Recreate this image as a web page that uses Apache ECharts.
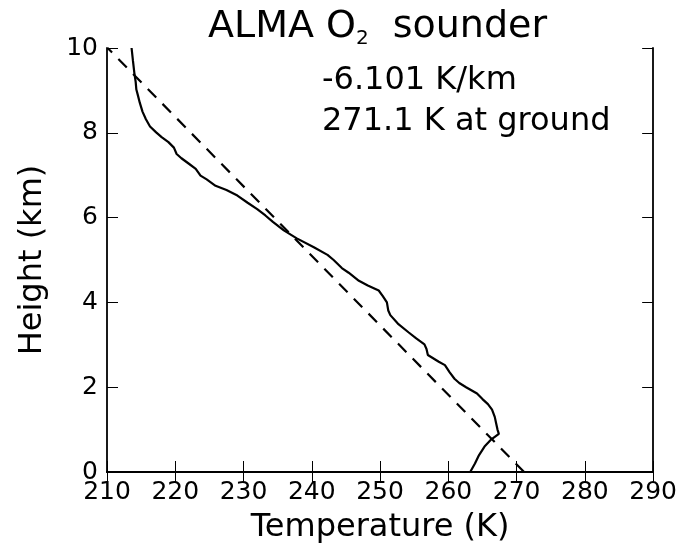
<!DOCTYPE html>
<html>
<head>
<meta charset="utf-8">
<script src="https://cdn.jsdelivr.net/npm/echarts@6/dist/echarts.min.js"></script>
<style>
html,body{margin:0;padding:0;background:#fff;}
#main{width:680px;height:549px;}
</style>
</head>
<body>
<div id="main"></div>
<script>
//探空数据 高度(km) 与 温度(K)
var heights = [0,0.2,0.4,0.6,0.77,0.9,1.0,1.15,1.3,1.47,1.6,1.72,1.85,2.0,2.1,2.2,2.35,2.52,2.6,2.76,2.9,3.01,3.15,3.29,3.5,3.7,3.81,4.0,4.15,4.28,4.4,4.51,4.7,4.81,5.0,5.12,5.3,5.51,5.7,5.9,6.05,6.2,6.35,6.52,6.65,6.75,6.9,6.99,7.15,7.27,7.4,7.5,7.65,7.78,7.9,8.01,8.15,8.32,8.5,8.71,8.9,9.02,9.2,9.42,9.7,10];
var temps = [263.2,263.9,264.5,265.3,266.3,267.4,267.2,267.0,266.8,266.4,265.8,265.0,264.2,262.6,261.6,260.9,260.2,259.5,258.6,257.0,256.8,256.5,255.3,254.2,252.6,251.5,251.2,251.0,250.4,249.8,248.2,246.9,245.4,244.4,243.2,242.3,240.3,237.8,235.9,234.3,233.2,232.0,230.6,229.1,227.5,225.9,224.6,223.7,223.0,222.0,220.9,220.2,219.8,219.0,218.0,217.2,216.3,215.7,215.2,214.8,214.5,214.3,214.2,214.0,213.8,213.6];
//拟合直线
var lapseRate = -6.101;
var groundTemp = 271.1;
var fitHeights = [0, 10];
var xTicks = [210,220,230,240,250,260,270,280,290];
var yTicks = [0,2,4,6,8,10];

var sounding = [];
for(var i=0;i<heights.length;i++){
	sounding.push([temps[i],heights[i]]);
}
var fitLine = [];
for(var j=0;j<fitHeights.length;j++){
	fitLine.push([groundTemp+lapseRate*fitHeights[j],fitHeights[j]]);
}

var font = 'DejaVu Sans';
var chart = echarts.init(document.getElementById('main'));
var tickStyle = {show:true,inside:true,length:11,lineStyle:{color:'#000',width:1}};
var lineStyle = {show:true,lineStyle:{color:'#000',width:1.8}};
var option = {
	backgroundColor:'#fff',
	animation:false,
	title:{
		text:'{a|ALMA O}{s|2}{a| sounder}',
		left:203,
		top:0,
		textStyle:{
			rich:{
				a:{fontFamily:font,fontSize:38,fontWeight:'normal',color:'#000',lineHeight:44},
				s:{fontFamily:font,fontSize:20,fontWeight:'normal',color:'#000',lineHeight:16,verticalAlign:'bottom',padding:[0,12,0,0]}
			}
		}
	},
	grid:{left:107,right:23,top:48,bottom:74},
	xAxis:[{
		type:'value',min:xTicks[0],max:xTicks[xTicks.length-1],interval:10,
		name:'Temperature (K)',nameLocation:'middle',nameGap:40,
		nameTextStyle:{fontFamily:font,fontSize:32,color:'#000'},
		axisLine:lineStyle,
		axisTick:tickStyle,
		axisLabel:{fontFamily:font,fontSize:25,color:'#000',margin:8},
		splitLine:{show:false}
	},{
		type:'value',position:'top',min:xTicks[0],max:xTicks[xTicks.length-1],interval:10,
		axisLine:lineStyle,
		axisTick:tickStyle,
		axisLabel:{show:false},splitLine:{show:false}
	}],
	yAxis:[{
		type:'value',min:yTicks[0],max:yTicks[yTicks.length-1],interval:2,
		name:'Height (km)',nameLocation:'middle',nameGap:58,
		nameTextStyle:{fontFamily:font,fontSize:32,color:'#000'},
		axisLine:lineStyle,
		axisTick:tickStyle,
		axisLabel:{fontFamily:font,fontSize:25,color:'#000',margin:9},
		splitLine:{show:false}
	},{
		type:'value',position:'right',min:yTicks[0],max:yTicks[yTicks.length-1],interval:2,
		axisLine:lineStyle,
		axisTick:tickStyle,
		axisLabel:{show:false},splitLine:{show:false}
	}],
	graphic:[
		{type:'text',left:322,top:65,style:{text:'-6.101 K/km',font:'32px "DejaVu Sans"',fill:'#000'}},
		{type:'text',left:322,top:106,style:{text:'271.1 K at ground',font:'32px "DejaVu Sans"',fill:'#000'}}
	],
	series:[{
		name:'sounder',type:'line',data:sounding,showSymbol:false,smooth:false,
		lineStyle:{color:'#000',width:2.2}
	},{
		name:'fit',type:'line',data:fitLine,showSymbol:false,
		lineStyle:{color:'#000',width:2.2,type:[12,9]}
	}]
};
chart.setOption(option);
</script>
</body>
</html>
